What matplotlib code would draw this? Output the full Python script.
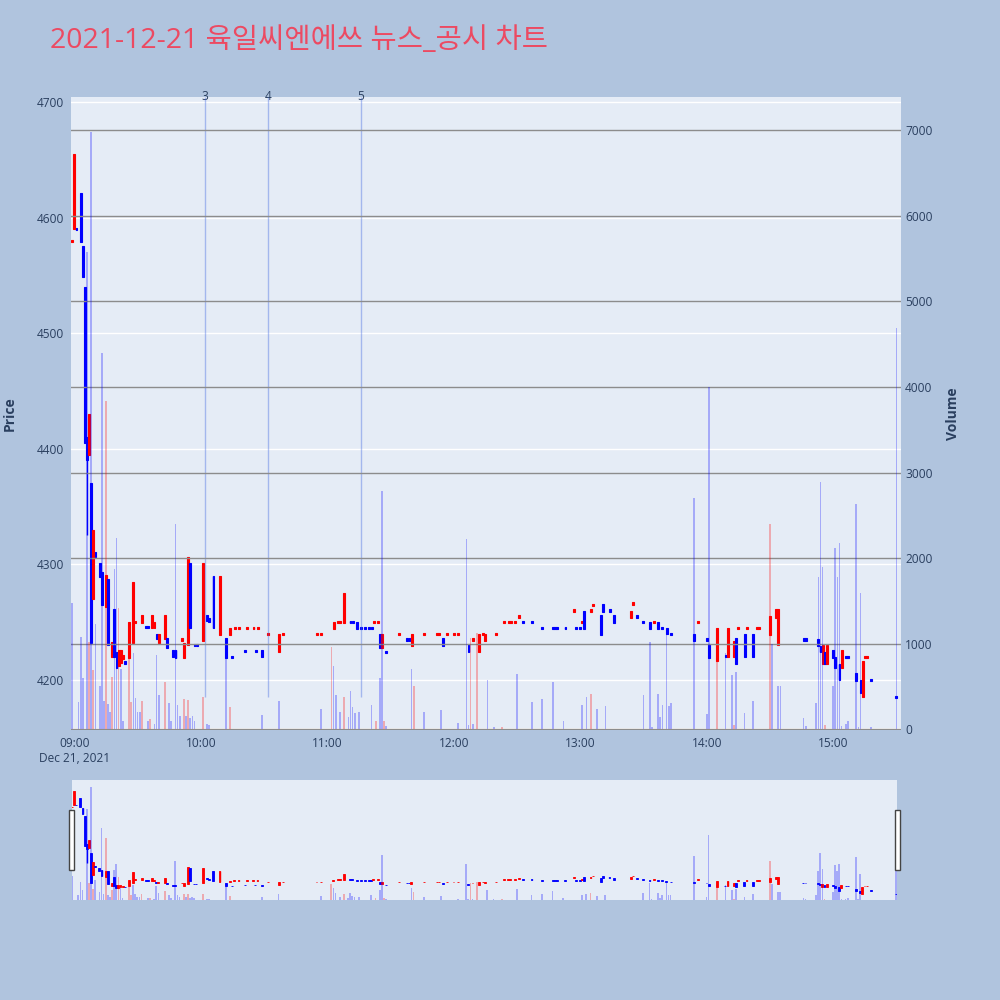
import matplotlib
matplotlib.use("Agg")
import matplotlib.pyplot as plt
from matplotlib.patches import Rectangle

plt.rcParams["font.family"] = ["Open Sans", "Noto Sans CJK KR", "DejaVu Sans"]

TITLE = "2021-12-21 육일씨엔에쓰 뉴스_공시 차트"
PAGE, PLOT, INK = "#b0c4de", "#e5ecf6", "#2a3f5f"
UP, DOWN, TITLE_RED = "#ff0000", "#0000ff", "#ec4a62"

# 1-minute candles, minutes after 09:00
c_min = [-1, 0, 1, 3, 4, 5, 6, 7, 8, 9, 10, 12, 13, 15, 16, 18, 19, 20, 21, 22, 23, 24, 26, 28, 29,
         32, 34, 35, 37, 38, 39, 40, 43, 44, 47, 48, 51, 52, 54, 55, 57, 58, 61, 63, 64, 66, 69, 72,
         74, 75, 76, 78, 81, 82, 85, 86, 87, 89, 92, 97, 99, 115, 117, 123, 125, 126, 128, 131, 132,
         134, 136, 138, 140, 141, 142, 144, 145, 146, 148, 154, 158, 159, 160, 166, 172, 173, 175,
         177, 180, 182, 187, 189, 192, 194, 195, 200, 204, 206, 207, 209, 211, 213, 217, 222, 227,
         228, 229, 233, 237, 238, 240, 241, 242, 245, 246, 250, 251, 254, 256, 264, 265, 267, 270,
         273, 275, 277, 279, 281, 283, 294, 296, 300, 301, 305, 309, 310, 313, 314, 315, 318, 319,
         322, 324, 325, 330, 333, 334, 346, 347, 353, 354, 355, 356, 357, 360, 361, 363, 364, 366,
         367, 371, 373, 374, 375, 376, 378, 390]
c_open = [4579, 4590, 4591, 4621, 4575, 4540, 4410, 4395, 4370, 4270, 4311, 4301, 4293, 4263, 4287,
          4220, 4261, 4224, 4212, 4215, 4218, 4216, 4219, 4232, 4249, 4249, 4247, 4247, 4245, 4245,
          4240, 4232, 4235, 4236, 4226, 4226, 4234, 4219, 4230, 4301, 4231, 4231, 4234, 4256, 4254,
          4290, 4239, 4236, 4239, 4221, 4244, 4244, 4226, 4244, 4244, 4226, 4244, 4226, 4239, 4224,
          4239, 4239, 4239, 4244, 4249, 4249, 4249, 4251, 4251, 4250, 4246, 4246, 4246, 4246, 4249,
          4249, 4240, 4228, 4225, 4239, 4236, 4236, 4229, 4239, 4239, 4239, 4236, 4239, 4239, 4239,
          4231, 4234, 4224, 4239, 4234, 4239, 4249, 4249, 4249, 4249, 4254, 4251, 4251, 4246, 4246,
          4246, 4246, 4246, 4259, 4246, 4246, 4249, 4260, 4259, 4264, 4256, 4266, 4261, 4256, 4254,
          4265, 4256, 4251, 4250, 4249, 4250, 4246, 4245, 4241, 4240, 4249, 4236, 4231, 4216, 4222,
          4220, 4220, 4236, 4244, 4240, 4244, 4240, 4244, 4244, 4239, 4254, 4230, 4236, 4236, 4235,
          4229, 4214, 4224, 4214, 4226, 4220, 4214, 4210, 4221, 4221, 4206, 4200, 4185, 4219, 4219,
          4201, 4186]
c_close = [4581, 4655, 4589, 4579, 4549, 4405, 4390, 4430, 4232, 4330, 4306, 4289, 4265, 4291, 4230,
           4233, 4220, 4210, 4226, 4226, 4222, 4214, 4250, 4285, 4251, 4256, 4245, 4245, 4256, 4250,
           4235, 4240, 4256, 4228, 4220, 4219, 4236, 4232, 4306, 4245, 4229, 4229, 4301, 4251, 4250,
           4245, 4290, 4219, 4245, 4219, 4246, 4246, 4224, 4246, 4246, 4224, 4246, 4220, 4241, 4240,
           4241, 4241, 4241, 4250, 4251, 4251, 4275, 4249, 4249, 4244, 4244, 4244, 4244, 4244, 4251,
           4251, 4228, 4240, 4223, 4241, 4234, 4234, 4240, 4241, 4241, 4241, 4229, 4241, 4241, 4241,
           4224, 4236, 4240, 4241, 4240, 4241, 4251, 4251, 4251, 4251, 4256, 4249, 4249, 4244, 4244,
           4244, 4244, 4244, 4261, 4244, 4244, 4251, 4244, 4261, 4266, 4239, 4259, 4259, 4249, 4260,
           4267, 4254, 4249, 4244, 4251, 4244, 4244, 4240, 4239, 4234, 4251, 4234, 4219, 4245, 4220,
           4245, 4234, 4214, 4246, 4220, 4246, 4220, 4246, 4246, 4255, 4261, 4261, 4234, 4234, 4229,
           4224, 4230, 4214, 4230, 4219, 4210, 4200, 4226, 4219, 4219, 4199, 4189, 4216, 4221, 4221,
           4199, 4184]
# the one candle with a wick beyond its body
wick_min, wick_low = [6], [4325]

# volume bars (minute, shares, 1 = up candle colour)
v_min = [-1, 2, 3, 4, 6, 7, 8, 9, 10, 12, 13, 14, 15, 16, 17, 18, 19, 20, 21, 22, 23, 26, 27, 28, 29,
         30, 31, 32, 35, 36, 38, 39, 40, 43, 45, 46, 48, 49, 50, 52, 53, 54, 55, 56, 57, 61, 63, 64,
         72, 74, 89, 97, 117, 122, 123, 124, 126, 128, 130, 131, 132, 133, 135, 141, 143, 145, 146,
         147, 148, 160, 161, 166, 174, 182, 186, 187, 188, 189, 191, 196, 199, 203, 210, 217, 222,
         227, 232, 241, 243, 245, 248, 252, 270, 273, 274, 277, 278, 279, 281, 282, 283, 294, 300,
         301, 305, 309, 312, 313, 314, 318, 322, 330, 331, 334, 335, 346, 347, 352, 353, 354, 355,
         356, 360, 361, 362, 363, 364, 366, 367, 371, 372, 373, 378, 390]
v_qty = [1470, 320, 1075, 600, 5580, 1020, 6980, 690, 1230, 510, 4400, 330, 3840, 290, 200, 610, 1870,
         2230, 1420, 700, 100, 870, 320, 890, 360, 200, 200, 330, 100, 120, 60, 870, 400, 550, 300,
         100, 2400, 280, 150, 350, 150, 340, 130, 150, 100, 380, 60, 50, 1040, 260, 160, 330, 230,
         960, 740, 400, 200, 380, 140, 450, 260, 190, 200, 280, 100, 600, 2780, 100, 40, 700, 500,
         200, 220, 70, 2220, 50, 1060, 60, 1120, 580, 30, 30, 640, 320, 350, 550, 100, 280, 370, 410,
         230, 270, 400, 1020, 30, 410, 140, 280, 1150, 270, 300, 2700, 180, 4000, 900, 890, 630, 50,
         670, 190, 330, 2400, 1000, 500, 500, 130, 40, 300, 1780, 2890, 1890, 50, 510, 2120, 1780,
         2180, 40, 60, 100, 2630, 30, 1590, 20, 4690]
v_up = [0, 0, 0, 0, 0, 1, 0, 1, 0, 0, 0, 0, 1, 0, 0, 1, 0, 0, 1, 0, 0, 1, 1, 0, 0, 0, 0, 1, 0, 1, 0,
        0, 0, 1, 0, 0, 0, 0, 0, 1, 0, 1, 0, 0, 0, 1, 0, 0, 0, 1, 0, 0, 0, 1, 0, 0, 0, 1, 0, 0, 0, 0,
        0, 0, 1, 0, 0, 1, 0, 0, 1, 0, 0, 0, 0, 0, 1, 0, 1, 0, 0, 1, 0, 0, 0, 0, 0, 0, 0, 1, 0, 0, 0,
        0, 0, 0, 0, 0, 0, 0, 0, 0, 0, 0, 1, 0, 0, 1, 0, 0, 0, 1, 0, 0, 0, 0, 0, 0, 0, 0, 0, 1, 0, 0,
        0, 0, 0, 0, 0, 0, 0, 0, 0, 0]

# news / disclosure markers
news_min = [62, 92, 136]
news_lab = ["3", "4", "5"]

x_ticks = [0, 60, 120, 180, 240, 300, 360]
x_labels = ["09:00\nDec 21, 2021", "10:00", "11:00", "12:00", "13:00", "14:00", "15:00"]

P_LIM, V_LIM = (4156.7, 4704.3), (-10, 7390)


def draw(ax, axv, lw):
    cols = [UP if c > o else DOWN for o, c in zip(c_open, c_close)]
    lows = [min(o, c) for o, c in zip(c_open, c_close)]
    highs = [max(o, c) for o, c in zip(c_open, c_close)]
    for m, lo in zip(wick_min, wick_low):
        i = c_min.index(m)
        lows[i] = lo
    ax.vlines(c_min, lows, highs, colors=cols, lw=1.0, zorder=3)
    ax.bar(c_min, [c - o for o, c in zip(c_open, c_close)], bottom=c_open, width=0.9,
           color=cols, edgecolor=cols, linewidth=lw, zorder=3)
    vc = [UP if u else DOWN for u in v_up]
    axv.bar(v_min, v_qty, width=0.8, color=vc, alpha=0.28, linewidth=0, zorder=2)


fig = plt.figure(figsize=(10, 10), dpi=100, facecolor=PAGE)

ax = fig.add_axes([0.071, 0.270, 0.830, 0.633], facecolor=PLOT)
axv = ax.twinx()
draw(ax, axv, 0.8)
for m in news_min:
    ax.vlines(m, 4185, P_LIM[1], color="#4169e1", alpha=0.4, lw=1, zorder=4)
for m, t in zip(news_min, news_lab):
    ax.text(m, 1.0, t, transform=ax.get_xaxis_transform(), ha="center", va="center",
            color=INK, fontsize=8.6)
ax.set_xlim(-1.6, 392.2)
ax.set_ylim(*P_LIM)
axv.set_ylim(*V_LIM)
ax.set_yticks(range(4200, 4701, 100))
axv.set_yticks(range(0, 7001, 1000))
ax.set_xticks(x_ticks, x_labels)
ax.grid(axis="y", color="white", lw=1)
ax.set_axisbelow(True)
axv.grid(axis="y", color="#8c8c8c", lw=1)
axv.axhline(0, color="white", lw=2, zorder=1)
for a in (ax, axv):
    for s in a.spines.values():
        s.set_visible(False)
ax.tick_params(length=0, colors=INK, labelsize=8.6, pad=5)
axv.tick_params(length=0, colors=INK, labelsize=8.6, pad=3)

# range slider
axs = fig.add_axes([0.072, 0.100, 0.825, 0.120], facecolor=PLOT)
axsv = axs.twinx()
draw(axs, axsv, 0.6)
axs.set_xlim(-1.0, 390.4)
axs.set_ylim(*P_LIM)
axsv.set_ylim(*V_LIM)
for a in (axs, axsv):
    a.set_xticks([])
    a.set_yticks([])
    for s in a.spines.values():
        s.set_visible(False)
for x0 in (0.0693, 0.8950):
    fig.patches.append(Rectangle((x0, 0.130), 0.0047, 0.060, transform=fig.transFigure,
                                 fc="white", ec="#444444", lw=1))

fig.text(0.050, 0.959, TITLE, color=TITLE_RED, fontsize=20.5, va="center", ha="left")
fig.text(0.0095, 0.586, "Price", rotation=90, color=INK, fontsize=10, fontweight="bold",
         ha="center", va="center")
fig.text(0.953, 0.586, "Volume", rotation=90, color=INK, fontsize=10, fontweight="bold",
         ha="center", va="center")

fig.savefig("out.png", facecolor=PAGE)
